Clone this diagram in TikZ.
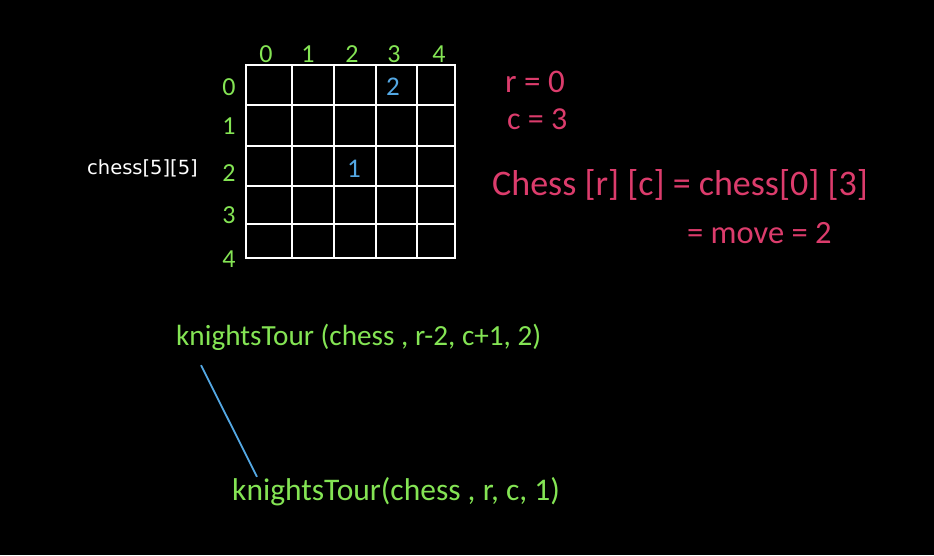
\documentclass[tikz,border=0pt]{standalone}
\usepackage{fontspec}
\setmainfont{DejaVu Sans}
\newfontfamily\handfont{Carlito}
\usetikzlibrary{positioning,calc}
\definecolor{inkgreen}{RGB}{132,228,84}
\definecolor{inkpink}{RGB}{220,60,108}
\definecolor{inkblue}{RGB}{84,168,228}

\begin{document}
\begin{tikzpicture}[x=1pt,y=-1pt,
  gridline/.style={white,line width=2.4pt,line cap=rect},
  idx/.style={text=inkgreen,font=\handfont\fontsize{26}{26}\selectfont,inner sep=0pt},
  movenum/.style={text=inkblue,font=\handfont\fontsize{27}{27}\selectfont,inner sep=0pt},
  note/.style={text=inkpink,anchor=base west,inner sep=0pt},
  call/.style={text=inkgreen,anchor=base west,inner sep=0pt},
  link/.style={inkblue,line width=1.8pt}]
\fill[black] (0,0) rectangle (934,555);
% board 5x5
\foreach \x in {246,292,334,376,417,455} \draw[gridline] (\x,65) -- (\x,258);
\foreach \y in {65,105,146,186,224,258} \draw[gridline] (246,\y) -- (455,\y);
\foreach \i/\x in {0/266,1/308,2/352,3/394,4/439} \node[idx] (col\i) at (\x,54) {\i};
\foreach \i/\y in {0/87,1/126,2/173,3/215,4/259} \node[idx] (row\i) at (229,\y) {\i};
\node[movenum] (mv2) at (393,87) {2};
\node[movenum] (mv1) at (354,169) {1};
\node[text=white,font=\fontsize{19.5}{20}\selectfont,anchor=base west,inner sep=0pt] (board) at (87,174) {chess[5][5]};
% notes
\node[note,font=\handfont\fontsize{33}{33}\selectfont] (rval) at (505,92) {r = 0};
\node[note,font=\handfont\fontsize{32}{32}\selectfont] (cval) at (507,129) {c = 3};
\node[note,font=\handfont\fontsize{36}{36}\selectfont] (lookup) at (492,195) {Chess [r] [c] = chess[0] [3]};
\node[note,font=\handfont\fontsize{32.5}{33}\selectfont] (movev) at (687,243) {= move = 2};
% calls
\node[call,font=\handfont\fontsize{29.2}{30}\selectfont] (call1) at (176,345) {knightsTour (chess , r-2, c+1, 2)};
\node[call,font=\handfont\fontsize{31.5}{32}\selectfont] (call2) at (232,500) {knightsTour(chess , r, c, 1)};
\draw[link] ([xshift=25pt,yshift=-15pt]call1.south west) -- ([xshift=25pt]call2.north west);
\end{tikzpicture}
\end{document}
